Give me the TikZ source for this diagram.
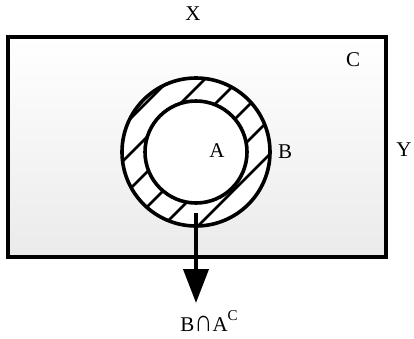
\documentclass[tikz,border=0pt]{standalone}
\usepackage{fontspec}
\usepackage{graphicx}
\setmainfont{Liberation Serif}
\usetikzlibrary{arrows.meta,positioning}

\tikzset{
  universe/.style={draw,line width=3.6pt,top color=white,bottom color=black!8,
    minimum width=378pt,minimum height=220pt,inner sep=0pt},
  ringline/.style={line width=3.6pt},
  hatchline/.style={line width=2.8pt},
  setlabel/.style={inner sep=1pt}
}
\newcommand{\bigcapsym}{\scalebox{1.2}[1.45]{∩}}

\begin{document}
\begin{tikzpicture}[x=1pt,y=-1pt,font=\fontsize{21}{21}\selectfont]
\useasboundingbox (0,0) rectangle (414,338);
% universe C
\node[universe] (U) at (197,147) {};
\coordinate (O) at (196,152);
% ring B, hatched outside A
\fill[white] (O) circle (74pt);
\begin{scope}[even odd rule]
\clip (O) circle (74pt) (O) circle (51pt);
\foreach \c in {249,284,...,424}
  \draw[hatchline] (\c-40,40) -- (\c-260,260);
\end{scope}
\draw[ringline] (O) circle (74pt);
\draw[ringline] (O) circle (51pt);
% labels
\node[setlabel] (X) at (193,14) {X};
\node[setlabel] (Y) at (404,150) {Y};
\node[setlabel] (C) at (353,60) {C};
\node[setlabel] (A) at (217,151) {A};
\node[setlabel] (B) at (285,152) {B};
\node[setlabel,anchor=base] (lbl) at (209,331)
  {B\bigcapsym A\raisebox{0.5em}{\fontsize{15}{15}\selectfont C}};
\coordinate (tail) at (196,213);
\coordinate (tip) at (196,303);
\draw[-{Triangle[length=34pt,width=25pt]},line width=4pt] (tail) -- (tip);
\end{tikzpicture}
\end{document}
